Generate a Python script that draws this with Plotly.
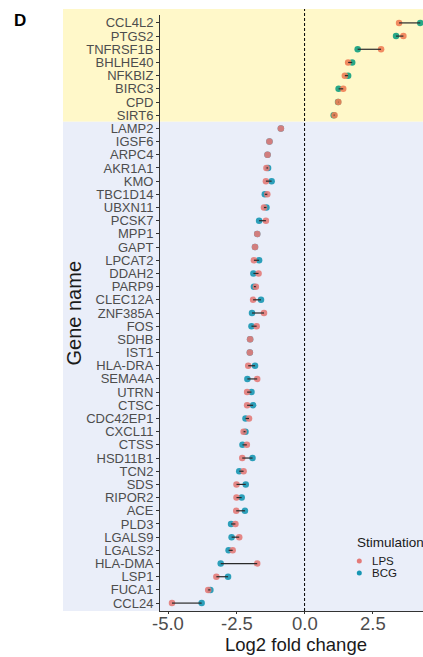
import plotly.graph_objects as go

# Genes listed top to bottom, with log2 fold change under each stimulation
genes = [
    "CCL4L2", "PTGS2", "TNFRSF1B", "BHLHE40", "NFKBIZ", "BIRC3", "CPD", "SIRT6",
    "LAMP2", "IGSF6", "ARPC4", "AKR1A1", "KMO", "TBC1D14", "UBXN11", "PCSK7",
    "MPP1", "GAPT", "LPCAT2", "DDAH2", "PARP9", "CLEC12A", "ZNF385A", "FOS",
    "SDHB", "IST1", "HLA-DRA", "SEMA4A", "UTRN", "CTSC", "CDC42EP1", "CXCL11",
    "CTSS", "HSD11B1", "TCN2", "SDS", "RIPOR2", "ACE", "PLD3", "LGALS9",
    "LGALS2", "HLA-DMA", "LSP1", "FUCA1", "CCL24",
]
lps = [
    3.47, 3.63, 2.81, 1.60, 1.48, 1.42, 1.24, 1.10,
    -0.87, -1.29, -1.36, -1.40, -1.42, -1.37, -1.49, -1.42,
    -1.74, -1.82, -1.86, -1.69, -1.79, -1.89, -1.49, -1.76,
    -2.00, -2.01, -2.07, -1.74, -2.11, -2.11, -2.04, -2.24,
    -2.12, -2.29, -2.24, -2.50, -2.50, -2.51, -2.54, -2.40,
    -2.64, -1.74, -3.24, -3.54, -4.87,
]
bcg = [
    4.25, 3.36, 1.95, 1.75, 1.60, 1.25, 1.23, 1.07,
    -0.87, -1.29, -1.36, -1.34, -1.21, -1.46, -1.40, -1.67,
    -1.74, -1.82, -1.67, -1.88, -1.86, -1.60, -1.93, -1.95,
    -2.00, -2.01, -1.82, -2.10, -1.95, -1.89, -2.17, -2.17,
    -2.28, -1.91, -2.40, -2.16, -2.31, -2.19, -2.70, -2.68,
    -2.79, -3.08, -2.81, -3.46, -3.78,
]
x_ticks = [-5.0, -2.5, 0.0, 2.5]
x_tick_text = ["-5.0", "-2.5", "0.0", "2.5"]

# Palettes: up-regulated panel and down-regulated panel
UP_LPS, UP_BCG = "#F07E55", "#119E80"
DN_LPS, DN_BCG = "#E37A78", "#1796B3"
FONT = "Liberation Sans, Arial, sans-serif"

up = [i for i, v in enumerate(lps) if v > 0]
dn = [i for i, v in enumerate(lps) if v <= 0]

fig = go.Figure()

# connecting segments
seg_x, seg_y = [], []
for g, a, b in zip(genes, lps, bcg):
    seg_x += [a, b, None]
    seg_y += [g, g, None]

# BCG first so LPS sits on top where the two coincide
for idx, c_lps, c_bcg in ((up, UP_LPS, UP_BCG), (dn, DN_LPS, DN_BCG)):
    fig.add_trace(go.Scatter(
        x=[bcg[i] for i in idx], y=[genes[i] for i in idx], mode="markers",
        marker=dict(size=6.5, color=c_bcg, opacity=0.9), showlegend=False,
        hoverinfo="x+y"))
    fig.add_trace(go.Scatter(
        x=[lps[i] for i in idx], y=[genes[i] for i in idx], mode="markers",
        marker=dict(size=6.5, color=c_lps, opacity=0.9), showlegend=False,
        hoverinfo="x+y"))

fig.add_trace(go.Scatter(
    x=seg_x, y=seg_y, mode="lines", line=dict(color="#2a2a2a", width=1.2),
    showlegend=False, hoverinfo="skip"))

n = len(genes)
n_up = len(up)
y_lo, y_hi = -0.6, n - 0.4
split = (n - n_up - 0.5 - y_lo) / (y_hi - y_lo)  # boundary between panels


def px_x(p):
    return (p - 160) / 263


def px_y(p):
    return (611 - p) / 596


shapes = [
    dict(type="rect", xref="paper", yref="paper", x0=px_x(63), x1=1.0,
         y0=split, y1=px_y(9), fillcolor="#FFF8C9", line_width=0, layer="below"),
    dict(type="rect", xref="paper", yref="paper", x0=px_x(63), x1=1.0,
         y0=0.0, y1=split, fillcolor="#EAEEF9", line_width=0, layer="below"),
    dict(type="line", xref="x", yref="paper", x0=0, x1=0, y0=0, y1=px_y(9),
         line=dict(color="black", width=1, dash="3px,2px")),
    # legend glyphs
    dict(type="circle", xref="paper", yref="paper",
         x0=px_x(356.8), x1=px_x(361.8), y0=px_y(563.5), y1=px_y(558.5),
         fillcolor=DN_LPS, line_width=0),
    dict(type="circle", xref="paper", yref="paper",
         x0=px_x(356.8), x1=px_x(361.8), y0=px_y(575.5), y1=px_y(570.5),
         fillcolor=DN_BCG, line_width=0),
]

annotations = [
    dict(text="<b>D</b>", x=px_x(12), y=px_y(20.5), xref="paper", yref="paper",
         xanchor="left", yanchor="middle", showarrow=False,
         font=dict(size=17, color="black", family=FONT)),
    dict(text="Gene name", x=px_x(73.5), y=px_y(313), xref="paper", yref="paper",
         xanchor="center", yanchor="middle", textangle=-90, showarrow=False,
         font=dict(size=20, color="#1a1a1a", family=FONT)),
    dict(text="Log2 fold change", x=px_x(296), y=px_y(644), xref="paper",
         yref="paper", xanchor="center", yanchor="middle", showarrow=False,
         font=dict(size=18.5, color="#1a1a1a", family=FONT)),
    dict(text="Stimulation", x=px_x(354.5), y=px_y(542), xref="paper",
         yref="paper", xanchor="left", yanchor="middle", showarrow=False,
         font=dict(size=13.5, color="#1a1a1a", family=FONT)),
    dict(text="LPS", x=px_x(370), y=px_y(561), xref="paper", yref="paper",
         xanchor="left", yanchor="middle", showarrow=False,
         font=dict(size=11.5, color="#1a1a1a", family=FONT)),
    dict(text="BCG", x=px_x(370), y=px_y(573), xref="paper", yref="paper",
         xanchor="left", yanchor="middle", showarrow=False,
         font=dict(size=11.5, color="#1a1a1a", family=FONT)),
]
# x tick labels, placed on the x scale just under the axis line
for v, t in zip(x_ticks, x_tick_text):
    annotations.append(dict(
        text=t, x=v, y=px_y(623.5), xref="x", yref="paper", xanchor="center",
        yanchor="middle", showarrow=False,
        font=dict(size=18.5, color="#4d4d4d", family=FONT)))

fig.update_layout(
    width=423, height=657,
    margin=dict(l=160, r=0, t=15, b=46),
    paper_bgcolor="white", plot_bgcolor="rgba(0,0,0,0)",
    shapes=shapes, annotations=annotations, showlegend=False,
    font=dict(family=FONT),
)
fig.update_xaxes(
    range=[-5.31, 4.35], tickvals=x_ticks, showticklabels=False,
    showgrid=False, zeroline=False, showline=True, linecolor="#333333",
    linewidth=1, ticks="outside", ticklen=2, tickcolor="#333333",
)
fig.update_yaxes(
    type="category", categoryorder="array", categoryarray=genes[::-1],
    tickmode="array", tickvals=genes, ticktext=genes,
    range=[y_lo, y_hi], showgrid=False, zeroline=False, showline=True,
    linecolor="#333333", linewidth=1, ticks="outside", ticklen=3,
    tickcolor="#333333", tickfont=dict(size=13, color="#4d4d4d", family=FONT),
)

fig.write_html("out.html")
